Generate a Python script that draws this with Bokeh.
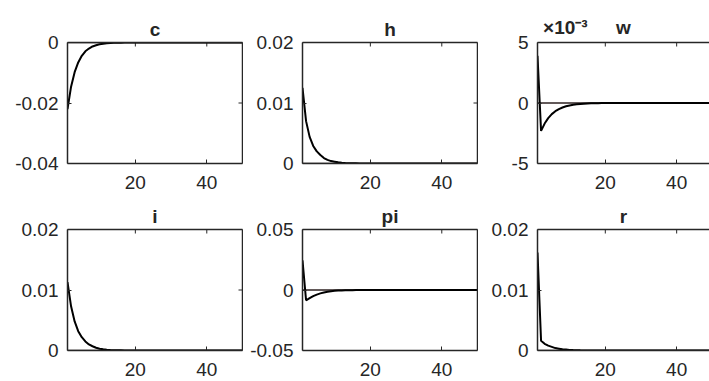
import math
from bokeh.plotting import figure
from bokeh.layouts import gridplot
from bokeh.models import Range1d, FixedTicker, LinearAxis, Span, ColumnDataSource
from bokeh.embed import file_html
from bokeh.resources import INLINE

# ---------------- data ----------------
periods = list(range(1, 51))

c_irf = [-0.0220, -0.0146, -0.0098, -0.0066, -0.0044, -0.0029, -0.0020, -0.0013, -0.0009, -0.0006,
         -0.0004, -0.00027, -0.00018, -0.00012, -0.00008, -0.00005, -0.00003, -0.00002, -0.00001, -0.00001,
         0.0, 0.0, 0.0, 0.0, 0.0, 0.0, 0.0, 0.0, 0.0, 0.0,
         0.0, 0.0, 0.0, 0.0, 0.0, 0.0, 0.0, 0.0, 0.0, 0.0,
         0.0, 0.0, 0.0, 0.0, 0.0, 0.0, 0.0, 0.0, 0.0, 0.0]

h_irf = [0.0125, 0.0070, 0.0044, 0.0029, 0.0020, 0.0014, 0.0009, 0.0006, 0.0004, 0.0003,
         0.0002, 0.00013, 0.00009, 0.00006, 0.00004, 0.00003, 0.00002, 0.00001, 0.00001, 0.0,
         0.0, 0.0, 0.0, 0.0, 0.0, 0.0, 0.0, 0.0, 0.0, 0.0,
         0.0, 0.0, 0.0, 0.0, 0.0, 0.0, 0.0, 0.0, 0.0, 0.0,
         0.0, 0.0, 0.0, 0.0, 0.0, 0.0, 0.0, 0.0, 0.0, 0.0]

# w is shown in units of 10^-3
w_irf_e3 = [3.9, -2.3, -1.7, -1.25, -0.92, -0.68, -0.50, -0.37, -0.27, -0.20,
            -0.15, -0.11, -0.08, -0.06, -0.045, -0.03, -0.02, -0.015, -0.01, -0.007,
            -0.005, -0.003, -0.002, -0.001, -0.001, 0.0, 0.0, 0.0, 0.0, 0.0,
            0.0, 0.0, 0.0, 0.0, 0.0, 0.0, 0.0, 0.0, 0.0, 0.0,
            0.0, 0.0, 0.0, 0.0, 0.0, 0.0, 0.0, 0.0, 0.0, 0.0]

i_irf = [0.0113, 0.0073, 0.0048, 0.0032, 0.0022, 0.0015, 0.0010, 0.0007, 0.00045, 0.0003,
         0.0002, 0.00013, 0.00009, 0.00006, 0.00004, 0.00003, 0.00002, 0.00001, 0.00001, 0.0,
         0.0, 0.0, 0.0, 0.0, 0.0, 0.0, 0.0, 0.0, 0.0, 0.0,
         0.0, 0.0, 0.0, 0.0, 0.0, 0.0, 0.0, 0.0, 0.0, 0.0,
         0.0, 0.0, 0.0, 0.0, 0.0, 0.0, 0.0, 0.0, 0.0, 0.0]

pi_irf = [0.0245, -0.0085, -0.0068, -0.0051, -0.0038, -0.0028, -0.0020, -0.0014, -0.0010, -0.0007,
          -0.0005, -0.00035, -0.00025, -0.00017, -0.00012, -0.00008, -0.00005, -0.00003, -0.00002, -0.00001,
          0.0, 0.0, 0.0, 0.0, 0.0, 0.0, 0.0, 0.0, 0.0, 0.0,
          0.0, 0.0, 0.0, 0.0, 0.0, 0.0, 0.0, 0.0, 0.0, 0.0,
          0.0, 0.0, 0.0, 0.0, 0.0, 0.0, 0.0, 0.0, 0.0, 0.0]

r_irf = [0.0162, 0.0016, 0.0011, 0.0008, 0.0006, 0.0004, 0.0003, 0.0002, 0.00015, 0.0001,
         0.00007, 0.00005, 0.00003, 0.00002, 0.00001, 0.0, 0.0, 0.0, 0.0, 0.0,
         0.0, 0.0, 0.0, 0.0, 0.0, 0.0, 0.0, 0.0, 0.0, 0.0,
         0.0, 0.0, 0.0, 0.0, 0.0, 0.0, 0.0, 0.0, 0.0, 0.0,
         0.0, 0.0, 0.0, 0.0, 0.0, 0.0, 0.0, 0.0, 0.0, 0.0]

titles = ["c", "h", "w", "i", "pi", "r"]
series = [c_irf, h_irf, w_irf_e3, i_irf, pi_irf, r_irf]
y_ranges = [(-0.04, 0.0), (0.0, 0.02), (-5.0, 5.0), (0.0, 0.02), (-0.05, 0.05), (0.0, 0.02)]
y_ticks = [[-0.04, -0.02, 0.0], [0.0, 0.01, 0.02], [-5.0, 0.0, 5.0],
           [0.0, 0.01, 0.02], [-0.05, 0.0, 0.05], [0.0, 0.01, 0.02]]
y_tick_labels = [["-0.04", "-0.02", "0"], ["0", "0.01", "0.02"], ["-5", "0", "5"],
                 ["0", "0.01", "0.02"], ["-0.05", "0", "0.05"], ["0", "0.01", "0.02"]]
x_ticks = [20, 40]
x_tick_labels = ["20", "40"]
scale_note = "×10⁻³"  # exponent note on the w panel

for s in series:
    assert len(s) == len(periods)

# ---------------- style ----------------
FONT = "Liberation Sans"
INK = "#262626"
FS = "19px"
NOTE_X = 8.8        # where the exponent note sits (x data units)


def style_axis(ax, ticks, labels):
    ax.ticker = FixedTicker(ticks=ticks, minor_ticks=[])
    ax.major_label_overrides = {t: l for t, l in zip(ticks, labels)}
    ax.major_tick_in = 4
    ax.major_tick_out = 0
    ax.minor_tick_line_color = None
    ax.major_tick_line_color = INK
    ax.major_tick_line_width = 1
    ax.axis_line_color = INK
    ax.axis_line_width = 1.5
    ax.major_label_text_font = FONT
    ax.major_label_text_color = INK
    ax.major_label_text_font_size = FS
    ax.major_label_standoff = 9


def line_only_axis():
    ax = LinearAxis(ticker=FixedTicker(ticks=[], minor_ticks=[]))
    ax.axis_line_color = INK
    ax.axis_line_width = 1.5
    ax.major_tick_line_color = None
    ax.minor_tick_line_color = None
    ax.major_tick_in = 0
    ax.major_tick_out = 0
    ax.major_label_standoff = 0
    return ax


def make_panel(idx, row, col):
    first_col = col == 0
    last_col = col == 2
    left_border = 67 if first_col else 59
    frame_w = 172 if last_col else 175
    right_border = 0 if last_col else 1
    width = left_border + frame_w + right_border
    x_end = 49.2 if last_col else 50
    top_border = 42 if row == 0 else 33
    bottom_border = 33 if row == 0 else 31
    height = top_border + 121 + bottom_border
    y0, y1 = y_ranges[idx]
    p = figure(width=width, height=height,
               x_range=Range1d(1, x_end), y_range=Range1d(y0, y1),
               output_backend="svg", toolbar_location=None,
               min_border_left=left_border, min_border_right=right_border,
               min_border_top=top_border, min_border_bottom=bottom_border,
               background_fill_color="white", border_fill_color="white",
               outline_line_color=None)
    p.xgrid.visible = False
    p.ygrid.visible = False

    style_axis(p.xaxis[0], x_ticks, x_tick_labels)
    p.xaxis[0].major_label_standoff = 12
    style_axis(p.yaxis[0], y_ticks[idx], y_tick_labels[idx])

    # box lines on top / right (ticks drawn inside as clipped dashes below)
    p.add_layout(line_only_axis(), "above")
    if not last_col:
        p.add_layout(line_only_axis(), "right")

    if titles[idx] == "w":
        # title and exponent note share one line above the frame
        p.title.visible = False
        note = LinearAxis(ticker=FixedTicker(ticks=[NOTE_X, (1 + x_end) / 2], minor_ticks=[]))
        note.major_label_overrides = {NOTE_X: scale_note, (1 + x_end) / 2: titles[idx]}
        note.axis_line_color = None
        note.major_tick_line_color = None
        note.minor_tick_line_color = None
        note.major_tick_in = 0
        note.major_tick_out = 0
        note.major_label_standoff = 5
        note.major_label_text_font = FONT
        note.major_label_text_font_size = FS
        note.major_label_text_font_style = "bold"
        note.major_label_text_color = INK
        p.add_layout(note, "above")
    else:
        p.title.text = titles[idx]
        p.title.align = "center"
        p.title.text_font = FONT
        p.title.text_font_size = FS
        p.title.text_font_style = "bold"
        p.title.text_color = INK
        p.title.standoff = 5

    # inside tick marks on the top edge and right edge (half of each dash is clipped away)
    p.scatter(x=x_ticks, y=[y1] * len(x_ticks), marker="dash", angle=math.pi / 2,
              size=8, line_color=INK, line_width=1)
    if not last_col:
        p.scatter(x=[x_end] * len(y_ticks[idx]), y=y_ticks[idx], marker="dash",
                  size=8, line_color=INK, line_width=1)

    p.add_layout(Span(location=0, dimension="width", line_color="#2e2222",
                      line_width=1.5, level="underlay"))

    src = ColumnDataSource(dict(x=periods, y=series[idx]))
    p.line("x", "y", source=src, line_color="black", line_width=2)
    return p


panels = []
for r in range(2):
    row_p = []
    for c in range(3):
        row_p.append(make_panel(r * 3 + c, r, c))
    panels.append(row_p)

grid = gridplot(panels, toolbar_location=None, merge_tools=False)
grid.spacing = 0

open("out.html", "w").write(file_html(grid, INLINE))
